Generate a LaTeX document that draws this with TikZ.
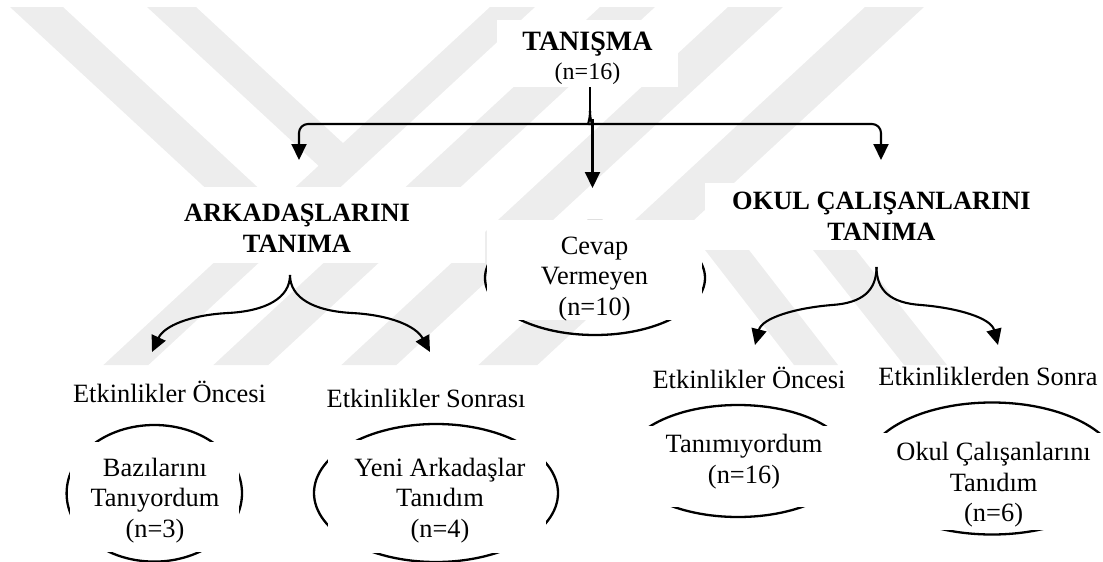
\documentclass[tikz,border=0pt]{standalone}
\usepackage{fontspec}
\setmainfont{Liberation Serif}
\usetikzlibrary{arrows.meta,shapes.geometric}

\begin{document}
\begin{tikzpicture}[x=1pt,y=-1pt,
  wm/.style={fill=black!7},
  mask/.style={fill=white, draw=none, inner sep=0pt, rectangle},
  oval/.style={draw, line width=2.3pt, ellipse, inner sep=0pt},
  conn/.style={line width=2.1pt, -{Triangle[length=16pt,width=15pt]}},
  plain/.style={line width=2.1pt},
  txt/.style={font=\fontsize{26.4}{30.5}\selectfont, align=center, inner sep=0pt},
  head/.style={font=\fontsize{26.4}{31}\selectfont\bfseries, align=center, inner sep=0pt},
  lbl/.style={font=\fontsize{26.4}{30.5}\selectfont, anchor=base, inner sep=0pt},
]
\useasboundingbox (0,0) rectangle (1103,562);

% faint striped background logo
\begin{scope}
  \clip (0,7) rectangle (1103,365);
  \fill[wm] (10,7) -- (63,7) -- (271.4,200) -- (218.4,200) -- cycle;
  \fill[wm] (147,7) -- (196,7) -- (343,143.1) -- (341,186.6) -- cycle;
  \fill[wm] (490,7) -- (535,7) -- (148.4,365) -- (103.4,365) -- cycle;
  \fill[wm] (600,7) -- (655,7) -- (268.4,365) -- (213.4,365) -- cycle;
  \fill[wm] (728,7) -- (783,7) -- (396.4,365) -- (341.4,365) -- cycle;
  \fill[wm] (865,7) -- (924,7) -- (537.4,365) -- (478.4,365) -- cycle;
  \fill[wm] (705,250) -- (749,250) -- (838,365) -- (794,365) -- cycle;
  \fill[wm] (813,250) -- (856,250) -- (947,365) -- (904,365) -- cycle;
\end{scope}

% ovals round the answers
\node[oval, minimum width=220pt, minimum height=114pt] (ecevap) at (595,278) {};
\node[oval, minimum width=175.4pt, minimum height=136.6pt] (e1) at (154.3,493.3) {};
\node[oval, minimum width=244pt, minimum height=138pt] (e2) at (436,493) {};
\node[oval, minimum width=224pt, minimum height=112pt] (e3) at (738,461) {};
\node[oval, minimum width=254pt, minimum height=132pt] (e4) at (992,468.5) {};

% white text boxes
\node[mask, minimum width=181pt, minimum height=67pt] (tanbox) at (587.5,53.5) {};
\node[mask, minimum width=376pt, minimum height=76pt] (akbox) at (297,225) {};
\node[mask, minimum width=215pt, minimum height=100pt] (cvbox) at (594.5,270) {};
\node[mask, minimum width=353pt, minimum height=67pt] (okbox) at (881.5,216.5) {};
\node[mask, minimum width=169.2pt, minimum height=110pt] (b1) at (154.3,496.7) {};
\node[mask, minimum width=218pt, minimum height=113pt] (b2) at (437,496.5) {};
\node[mask, minimum width=236pt, minimum height=81pt] (b3) at (738,466.5) {};
\node[mask, minimum width=265pt, minimum height=97pt] (b4) at (992.5,481.5) {};

% texts
\node[font=\fontsize{28}{28}\selectfont\bfseries, anchor=base, inner sep=0pt] (tanisma) at (587.5,50) {TANIŞMA};
\node[font=\fontsize{24}{24}\selectfont, anchor=base, inner sep=0pt] (tanismaN) at (587.5,79) {(n=16)};
\node[head] (arkadas) at (297,228) {ARKADAŞLARINI\\TANIMA};
\node[head] (okul) at (881.5,216) {OKUL ÇALIŞANLARINI\\TANIMA};
\node[txt] (cevap) at (594.5,279) {Cevap\\Vermeyen\\(n=10)};
\node[lbl] (oncesiL) at (169.5,402) {Etkinlikler Öncesi};
\node[lbl] (sonrasi) at (426,407) {Etkinlikler Sonrası};
\node[lbl] (oncesiR) at (749,388.5) {Etkinlikler Öncesi};
\node[lbl] (sonra) at (988,385) {Etkinliklerden Sonra};
\node[txt] (bazi) at (155,500.6) {Bazılarını\\Tanıyordum\\(n=3)};
\node[txt] (yeni) at (440,500.3) {Yeni Arkadaşlar\\Tanıdım\\(n=4)};
\node[txt] (tanimiyor) at (744,461.6) {Tanımıyordum\\(n=16)};
\node[txt] (okulcal) at (993.6,485) {Okul Çalışanlarını\\Tanıdım\\(n=6)};

% branching points and arrow tips
\coordinate (split) at (590,111);
\coordinate (armL) at (299,124);
\coordinate (armR) at (881,124);
\coordinate (tipL) at (299,160);
\coordinate (tipR) at (881,160);
\coordinate (midC) at (592.5,119);
\coordinate (tipC) at (592.5,188);
\coordinate (akStem) at (290,275);
\coordinate (okStem) at (876.5,267);

% top level connectors
\draw[plain] ([xshift=2.5pt]tanbox.south) -- (split);
\draw[conn, rounded corners=9pt] (split) .. controls (590,121) and (587,124) .. (580,124) -- (armL) -- (tipL);
\draw[conn, rounded corners=9pt] (split) .. controls (590,121) and (593,124) .. (600,124) -- (armR) -- (tipR);
\draw[conn] (midC) -- (tipC);

% second level connectors
\draw[conn] (akStem) .. controls (290,298) and (266,311) .. (228,313) .. controls (190,315) and (164,326) .. (152,352);
\draw[conn] (akStem) .. controls (290,298) and (314,311) .. (352,313) .. controls (390,315) and (416,326) .. (430,352);
\draw[conn] (okStem) .. controls (876.5,291) and (862,303) .. (832,305) .. controls (795,308) and (762,318) .. (755,345);
\draw[conn] (okStem) .. controls (876.5,291) and (891,303) .. (921,305) .. controls (958,308) and (991,318) .. (998,345);
\end{tikzpicture}
\end{document}
